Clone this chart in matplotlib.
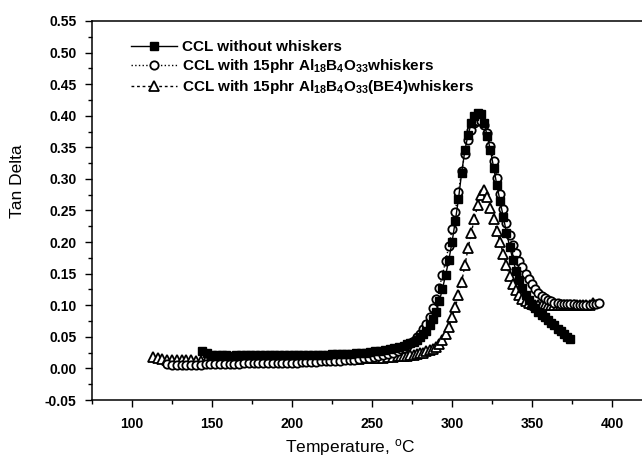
import matplotlib
matplotlib.use("Agg")
import matplotlib.pyplot as plt
from matplotlib.ticker import MultipleLocator

plt.rcParams['font.family'] = ['Liberation Sans', 'DejaVu Sans']
plt.rcParams['mathtext.fontset'] = 'custom'
plt.rcParams['mathtext.rm'] = 'Liberation Sans:bold'
plt.rcParams['mathtext.default'] = 'regular'
plt.rcParams['axes.unicode_minus'] = False

# ---- data (temperature grid in degC, tan delta values) ----
t1 = list(range(144, 271, 3)) + list(range(272, 375, 2))
v1 = [0.027, 0.024, 0.022, 0.021, 0.021, 0.021, 0.020, 0.021, 0.021, 0.021,
      0.021, 0.021, 0.021, 0.021, 0.021, 0.022, 0.021, 0.021, 0.022, 0.022,
      0.022, 0.022, 0.022, 0.022, 0.022, 0.022, 0.022, 0.023, 0.023, 0.023,
      0.023, 0.023, 0.024, 0.024, 0.025, 0.026, 0.027, 0.028, 0.029, 0.030,
      0.032, 0.034, 0.036,
      0.038, 0.040, 0.042, 0.045, 0.049, 0.054, 0.060, 0.068, 0.078, 0.090,
      0.106, 0.126, 0.148, 0.172, 0.200, 0.233, 0.268, 0.310, 0.345, 0.370,
      0.388, 0.400, 0.404, 0.402, 0.388, 0.368, 0.345, 0.318, 0.290, 0.265,
      0.240, 0.215, 0.193, 0.172, 0.155, 0.140, 0.127, 0.116, 0.108, 0.101,
      0.095, 0.090, 0.085, 0.081, 0.076, 0.072, 0.068, 0.063, 0.059, 0.055,
      0.050, 0.047]

t2 = list(range(122, 269, 3)) + list(range(268, 393, 2))
v2 = [0.007, 0.006, 0.006, 0.006, 0.006, 0.006, 0.006, 0.006, 0.007, 0.007,
      0.007, 0.007, 0.007, 0.007, 0.007, 0.007, 0.008, 0.008, 0.008, 0.008,
      0.008, 0.008, 0.008, 0.009, 0.009, 0.009, 0.009, 0.009, 0.010, 0.010,
      0.010, 0.010, 0.011, 0.011, 0.011, 0.012, 0.012, 0.013, 0.013, 0.014,
      0.015, 0.016, 0.017, 0.018, 0.019, 0.021, 0.023, 0.025, 0.028,
      0.030, 0.033, 0.036, 0.040, 0.044, 0.049, 0.055, 0.062, 0.071, 0.082,
      0.095, 0.110, 0.128, 0.148, 0.170, 0.194, 0.220, 0.248, 0.280, 0.312,
      0.340, 0.362, 0.378, 0.388, 0.392, 0.392, 0.386, 0.372, 0.352, 0.328,
      0.302, 0.276, 0.252, 0.230, 0.212, 0.196, 0.183, 0.170, 0.160, 0.150,
      0.141, 0.133, 0.126, 0.120, 0.115, 0.111, 0.108, 0.106, 0.104, 0.103,
      0.102, 0.102, 0.102, 0.102, 0.102, 0.101, 0.101, 0.101, 0.101, 0.101,
      0.102, 0.102, 0.103]

t3 = list(range(113, 269, 3)) + list(range(268, 389, 2))
v3 = [0.018, 0.016, 0.015, 0.014, 0.013, 0.013, 0.013, 0.013, 0.013, 0.012,
      0.012, 0.012, 0.012, 0.012, 0.012, 0.012, 0.012, 0.012, 0.012, 0.013,
      0.013, 0.013, 0.013, 0.013, 0.013, 0.013, 0.013, 0.013, 0.013, 0.013,
      0.014, 0.014, 0.014, 0.014, 0.014, 0.014, 0.014, 0.014, 0.014, 0.015,
      0.015, 0.015, 0.015, 0.015, 0.016, 0.016, 0.016, 0.017, 0.017, 0.018,
      0.018, 0.019,
      0.019, 0.019, 0.020, 0.021, 0.022, 0.023, 0.024, 0.025, 0.027, 0.029,
      0.031, 0.034, 0.038, 0.045, 0.054, 0.066, 0.081, 0.097, 0.116, 0.137,
      0.163, 0.190, 0.215, 0.237, 0.258, 0.274, 0.282, 0.272, 0.254, 0.236,
      0.218, 0.200, 0.181, 0.163, 0.147, 0.134, 0.124, 0.116, 0.110, 0.106,
      0.104, 0.102, 0.101, 0.100, 0.100, 0.100, 0.100, 0.100, 0.100, 0.100,
      0.100, 0.100, 0.100, 0.100, 0.100, 0.100, 0.100, 0.100, 0.101, 0.101,
      0.103]

labels = ["CCL without whiskers",
          "CCL with 15phr Al$_{18}$B$_{4}$O$_{33}$whiskers",
          "CCL with 15phr Al$_{18}$B$_{4}$O$_{33}$(BE4)whiskers"]

xticks = [100, 150, 200, 250, 300, 350, 400]
yticks = [-0.05, 0.00, 0.05, 0.10, 0.15, 0.20, 0.25, 0.30, 0.35, 0.40, 0.45, 0.50, 0.55]

# ---- figure ----
fig = plt.figure(figsize=(6.42, 4.61), dpi=100)
ax = fig.add_axes([92/642, 61/461, 1 - 92/642 + 0.002, 379/461])

l1, = ax.plot(t1, v1, color='black', lw=1.0, ls='-', marker='s', ms=6,
              mfc='black', mec='black', mew=1.0, zorder=4, label=labels[0])
l2, = ax.plot(t2, v2, color='black', lw=1.0, ls=':', marker='o', ms=6,
              mfc='white', mec='black', mew=1.3, zorder=3, label=labels[1])
l3, = ax.plot(t3, v3, color='black', lw=1.0, ls=(0, (2, 2)), marker='^', ms=7,
              mfc='white', mec='black', mew=1.3, zorder=2, label=labels[2])

ax.set_xlim(75, 419.5)
ax.set_ylim(-0.05, 0.55)
ax.set_xticks(xticks)
ax.set_yticks(yticks)
ax.set_yticklabels([f"{y:.2f}" for y in yticks])
ax.xaxis.set_minor_locator(MultipleLocator(25))
ax.yaxis.set_minor_locator(MultipleLocator(0.025))
ax.tick_params(which='major', direction='out', length=5, width=1.0,
               labelsize=10)
ax.tick_params(axis='x', which='major', pad=7)
ax.tick_params(axis='y', which='major', pad=6)
ax.tick_params(which='minor', direction='out', length=3, width=1.0)
ax.tick_params(axis='x', which='both', top=False)
ax.tick_params(axis='y', which='both', right=False)
for lab in ax.get_xticklabels() + ax.get_yticklabels():
    lab.set_fontweight('bold')

ax.spines['right'].set_visible(False)
for s in ['left', 'bottom', 'top']:
    ax.spines[s].set_linewidth(1.1)

ax.set_xlabel("Temperature, $^{o}$C", fontsize=12.5)
ax.xaxis.set_label_coords(0.469, -0.098)
ax.set_ylabel("Tan Delta", fontsize=12.5)
ax.yaxis.set_label_coords(-0.122, 0.578)

leg = ax.legend(handles=[l1, l2, l3], loc='upper left',
                bbox_to_anchor=(0.06, 0.965), frameon=False,
                prop={'weight': 'bold', 'size': 11}, handlelength=3.0,
                handletextpad=0.3, labelspacing=0.2, borderaxespad=0.0)

fig.savefig("out.png", dpi=100)
